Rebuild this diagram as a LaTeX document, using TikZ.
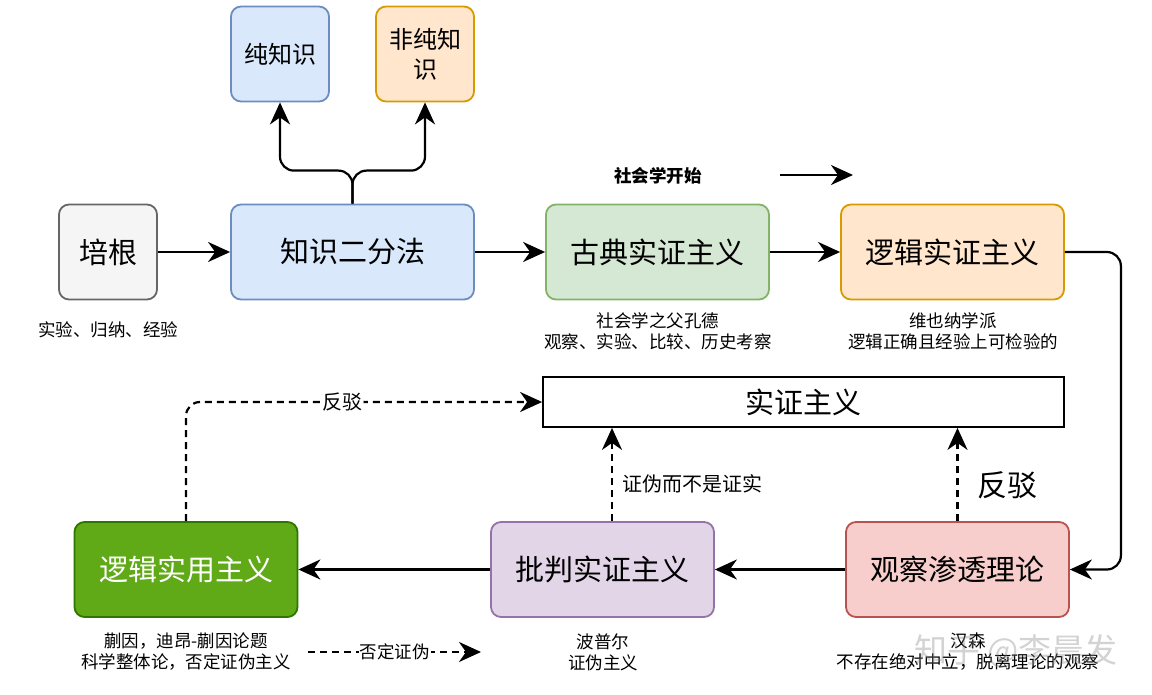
\documentclass[tikz,border=0pt]{standalone}
\usepackage{fontspec}
\setmainfont{Noto Sans CJK SC}
\usetikzlibrary{arrows.meta}
\definecolor{bluef}{HTML}{DAE8FC}\definecolor{blued}{HTML}{6C8EBF}
\definecolor{orf}{HTML}{FFE6CC}\definecolor{ord}{HTML}{D79B00}
\definecolor{grf}{HTML}{D5E8D4}\definecolor{grd}{HTML}{82B366}
\definecolor{gyf}{HTML}{F5F5F5}\definecolor{gyd}{HTML}{666666}
\definecolor{dgf}{HTML}{60A917}\definecolor{dgd}{HTML}{2D7600}
\definecolor{puf}{HTML}{E1D5E7}\definecolor{pud}{HTML}{9673A6}
\definecolor{ref}{HTML}{F8CECC}\definecolor{red}{HTML}{B85450}
\begin{document}
\begin{tikzpicture}[x=1pt,y=-1pt,
  box/.style={draw, line width=1.8pt, rounded corners=10pt, inner sep=0pt,
    align=center, minimum width=223pt, minimum height=95pt,
    font=\fontsize{29}{34}\selectfont},
  sbox/.style={box, minimum width=98pt, minimum height=95pt},
  lbl/.style={align=center, inner sep=1pt, font=\fontsize{17.5}{21}\selectfont},
  elbl/.style={inner sep=1pt, font=\fontsize{20}{24}\selectfont},
  arr/.style={line width=2.2pt, -{Stealth[length=22pt,width=20pt,inset=7pt]}},
  darr/.style={arr, dash pattern=on 7pt off 5pt}]
\useasboundingbox (0,0) rectangle (1152,695);
% nodes
\node[sbox, fill=gyf, draw=gyd] (pg) at (108,252) {培根};
\node[box, fill=bluef, draw=blued, minimum width=243pt] (zs) at (352.5,252) {知识二分法};
\node[box, fill=grf, draw=grd] (gd) at (657.5,252) {古典实证主义};
\node[box, fill=orf, draw=ord] (lj) at (952.5,252) {逻辑实证主义};
\node[sbox, fill=bluef, draw=blued, font=\fontsize{24}{30}\selectfont] (cz) at (280,54) {纯知识};
\node[sbox, fill=orf, draw=ord, font=\fontsize{24}{30}\selectfont] (fcz) at (425,54) {非纯知\\识};
\node[draw, line width=1.8pt, minimum width=521pt, minimum height=50pt, inner sep=0pt,
  font=\fontsize{29}{34}\selectfont] (sz) at (803.5,402) {实证主义};
\node[box, fill=dgf, draw=dgd, text=white] (ly) at (186,569.5) {逻辑实用主义};
\node[box, fill=puf, draw=pud] (pp) at (602.5,569.5) {批判实证主义};
\node[box, fill=ref, draw=red] (gc) at (957.5,569.5) {观察渗透理论};
% labels
\node[lbl] (l1) at (108,330) {实验、归纳、经验};
\node[lbl] (l2) at (658,331) {社会学之父孔德\\观察、实验、比较、历史考察};
\node[lbl] (l3) at (953,331) {维也纳学派\\逻辑正确且经验上可检验的};
\node[lbl] (l4) at (186,652) {蒯因，迪昂-蒯因论题\\科学整体论，否定证伪主义};
\node[lbl] (l5) at (603,652) {波普尔\\证伪主义};
\node[lbl] (l6) at (968,652) {汉森\\不存在绝对中立，脱离理论的观察};
\node[font=\bfseries\fontsize{17.5}{21}\selectfont] (sh) at (658,176) {社会学开始};
% connectors
\draw[arr] (pg) -- (zs);
\draw[arr] (zs) -- (gd);
\draw[arr] (gd) -- (lj);
\draw[arr, rounded corners=14pt] (lj.east) -- ++(56,0) |- (gc.east);
\draw[arr] (gc) -- (pp);
\draw[arr] (pp) -- (ly);
\draw[arr, rounded corners=14pt] (zs.north) -- ++(0,-33) -| (cz.south);
\draw[arr, rounded corners=14pt] (zs.north) -- ++(0,-33) -| (fcz.south);
\draw[darr] ([xshift=9.5pt]pp.north) -- node[pos=0.4, anchor=west, xshift=8pt, elbl] {证伪而不是证实} ([xshift=9.5pt]pp.north |- sz.south);
\draw[darr] (gc.north) -- node[pos=0.38, anchor=west, xshift=18pt, elbl, font=\fontsize{30}{34}\selectfont] {反驳} (gc.north |- sz.south);
\draw[darr, rounded corners=14pt] (ly.north) |- node[pos=0.72, elbl, fill=white] {反驳} (sz.west);
\coordinate (s1) at (780,175);
\coordinate (s2) at (853,175);
\draw[arr] (s1) -- (s2);
\coordinate (n1) at (308,652);
\coordinate (n2) at (481,652);
\draw[darr] (n1) -- node[elbl, fill=white, font=\fontsize{17.5}{21}\selectfont] {否定证伪} (n2);
\node[opacity=0.35, text=gray, font=\fontsize{33}{36}\selectfont] (wm) at (1016,651) {知乎 @李晨发};
\end{tikzpicture}
\end{document}
